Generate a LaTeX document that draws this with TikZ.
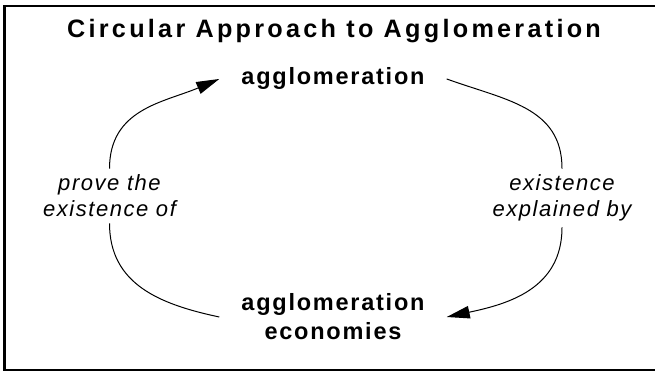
\documentclass[tikz,border=0pt]{standalone}
\usepackage{fontspec}
\setmainfont{Liberation Sans}
\newfontfamily\headfont[LetterSpace=13]{Liberation Sans}
\newfontfamily\nodefont[LetterSpace=7.5]{Liberation Sans}
\newfontfamily\notefont[LetterSpace=7]{Liberation Sans}
\usetikzlibrary{arrows.meta}
\begin{document}
\begin{tikzpicture}[x=1pt,y=1pt,
  heading/.style={font=\headfont\bfseries\fontsize{25.2}{29}\selectfont, inner sep=0pt},
  stage/.style={font=\nodefont\bfseries\fontsize{23.5}{29}\selectfont, align=center, inner xsep=22pt, inner ysep=0pt},
  linklabel/.style={font=\notefont\itshape\fontsize{22}{26}\selectfont, align=center, inner xsep=0pt, inner ysep=6pt},
  link/.style={line width=1pt, looseness=1.08},
  flow/.style={link, -{Triangle[length=23pt,width=12.5pt]}},
  frame/.style={line width=2.3pt}]
\useasboundingbox (0,0) rectangle (655,371);
% open frame: top, left and bottom edges
\draw[frame] (660,365) -- (4.5,365) -- (4.5,1) -- (660,1);
\node[heading, anchor=base] (title) at (334,333) {Circular Approach to Agglomeration};
\node[stage, anchor=base] (top) at (333,286) {agglomeration};
\node[stage] (bot) at (333,54) {agglomeration\\economies};
\node[linklabel] (lft) at (109.5,175) {prove the\\existence of};
\node[linklabel] (rgt) at (562,173) {existence\\explained by};
% the cycle, broken around its two labels
\draw[link] (bot.west) to[out=168,in=-90] (lft.south);
\draw[flow] (lft.north) to[out=90,in=203] (top.west);
\draw[link] (top.east) to[out=-20,in=90] (rgt.north);
\draw[flow] (rgt.south) to[out=-90,in=12] (bot.east);
\end{tikzpicture}
\end{document}
